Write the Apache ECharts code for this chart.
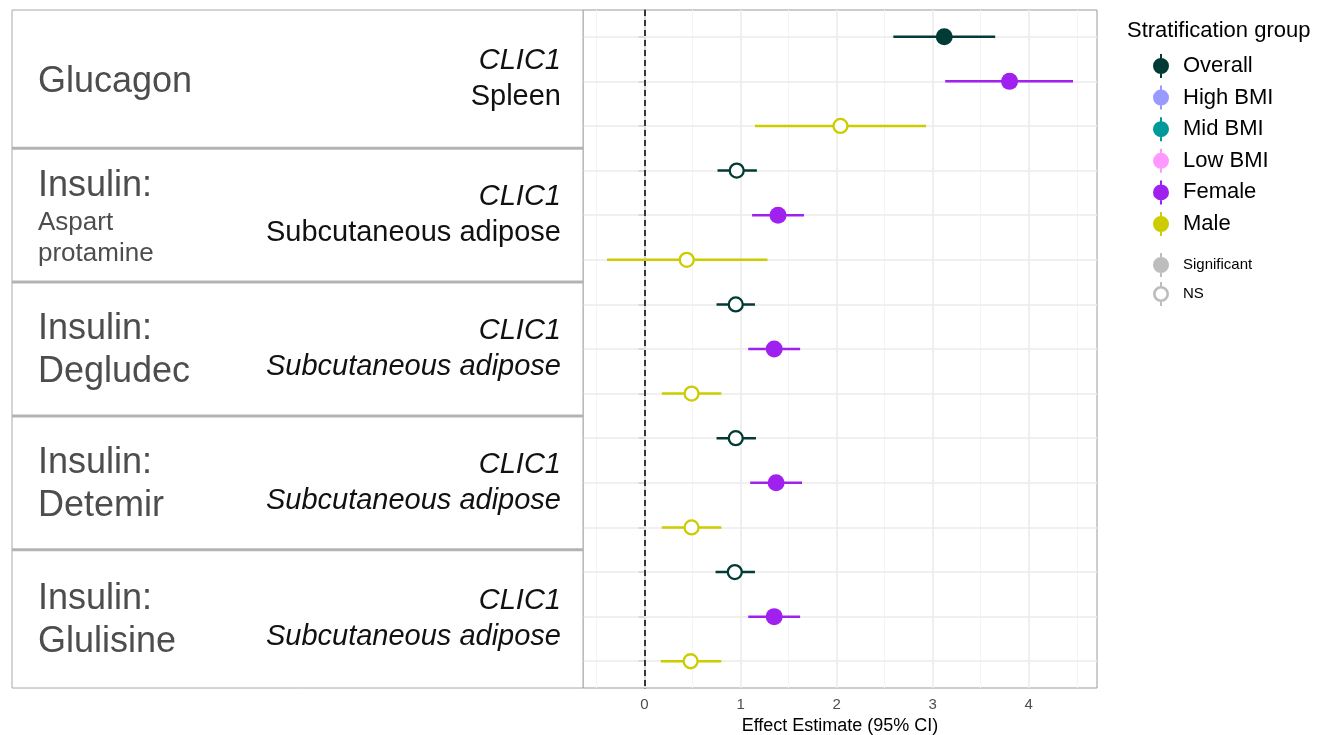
<!DOCTYPE html>
<html>
<head>
<meta charset="utf-8">
<script src="https://cdn.jsdelivr.net/npm/echarts@6/dist/echarts.min.js"></script>
<style>
  html, body { margin: 0; padding: 0; background: #fff; }
  #chart { width: 1332px; height: 735px; }
</style>
</head>
<body>
<div id="chart"></div>
<script>
// facet labels, one per drug (top to bottom)
const drugTitles = ['Glucagon', 'Insulin:', 'Insulin:', 'Insulin:', 'Insulin:'];
const drugSubtitles = ['', 'Aspart protamine', 'Degludec', 'Detemir', 'Glulisine'];
const genes = ['CLIC1', 'CLIC1', 'CLIC1', 'CLIC1', 'CLIC1'];
const tissues = ['Spleen', 'Subcutaneous adipose', 'Subcutaneous adipose', 'Subcutaneous adipose', 'Subcutaneous adipose'];

// strata shown in each facet, in row order
const plotGroups = ['Overall', 'Female', 'Male'];
const legendGroups = ['Overall', 'High BMI', 'Mid BMI', 'Low BMI', 'Female', 'Male'];

// effect estimates + 95% CI, one value per drug
const overallEst  = [3.12, 0.96, 0.95, 0.95, 0.94];
const overallLow  = [2.59, 0.76, 0.75, 0.75, 0.74];
const overallHigh = [3.65, 1.17, 1.15, 1.16, 1.15];
const overallSig  = [1, 0, 0, 0, 0];

const femaleEst  = [3.80, 1.39, 1.35, 1.37, 1.35];
const femaleLow  = [3.13, 1.12, 1.08, 1.10, 1.08];
const femaleHigh = [4.46, 1.66, 1.62, 1.64, 1.62];
const femaleSig  = [1, 1, 1, 1, 1];

const maleEst  = [2.04, 0.44, 0.49, 0.49, 0.48];
const maleLow  = [1.15, -0.39, 0.18, 0.18, 0.17];
const maleHigh = [2.93, 1.28, 0.80, 0.80, 0.80];
const maleSig  = [0, 0, 0, 0, 0];

const xTicks = [0, 1, 2, 3, 4];
const xMinorGrid = [-0.5, 0.5, 1.5, 2.5, 3.5, 4.5];
const xMin = -0.64;
const xMax = 4.71;

const FONT = "'Liberation Sans', Arial, sans-serif";

const colors = {
  'Overall':  '#023B36',
  'High BMI': '#9999FF',
  'Mid BMI':  '#009999',
  'Low BMI':  '#FF99FF',
  'Female':   '#A020F0',
  'Male':     '#CCCC00',
  sig:        '#BDBDBD',
  grid:       '#EBEBEB',
  gridMinor:  '#F4F4F4',
  frame:      '#8C8C8C'
};

// tissue names printed upright (rest are italic)
const uprightTissue = [true, true, false, false, false];

// rows are numbered 1..15, with ggplot-like 0.6 padding on both ends
const nRows = drugTitles.length * plotGroups.length;
const rowNums = [];
for (let r = 1; r <= nRows; r++) rowNums.push(r);
const yMin = 0.4;
const yMax = nRows + 0.6;

const groupData = {
  'Overall': [overallEst, overallLow, overallHigh, overallSig],
  'Female':  [femaleEst, femaleLow, femaleHigh, femaleSig],
  'Male':    [maleEst, maleLow, maleHigh, maleSig]
};

function buildRows(group) {
  const [est, lo, hi, sig] = groupData[group];
  const g = plotGroups.indexOf(group);
  return est.map((v, i) => [i * plotGroups.length + g + 1, v, lo[i], hi[i], sig[i]]);
}

function renderCI(params, api) {
  const color = api.visual('color');
  const row = api.value(0);
  const y = api.coord([0, row])[1];
  const xe = api.coord([api.value(1), row])[0];
  const xl = api.coord([api.value(2), row])[0];
  const xh = api.coord([api.value(3), row])[0];
  const sig = api.value(4) === 1;
  return {
    type: 'group',
    children: [
      { type: 'line', shape: { x1: xl, y1: y, x2: xh, y2: y }, style: { stroke: color, lineWidth: 2.5 } },
      {
        type: 'circle',
        shape: { cx: xe, cy: y, r: sig ? 8.5 : 7 },
        style: sig ? { fill: color } : { fill: '#fff', stroke: color, lineWidth: 2.3 }
      }
    ]
  };
}

function renderStrip(params, api) {
  const i = api.value(1);
  const cs = params.coordSys;
  const k = plotGroups.length;
  const last = drugTitles.length - 1;
  const y0 = api.coord([0, i === 0 ? yMin : i * k + 0.5])[1];
  const y1 = api.coord([0, i === last ? yMax : i * k + k + 0.5])[1];
  const cy = (y0 + y1) / 2;

  let left;
  const sub = drugSubtitles[i];
  if (!sub) {
    left = '{t|' + drugTitles[i] + '}';
  } else if (sub.length > 12) {
    left = '{t|' + drugTitles[i] + '}\n' + sub.split(' ').map(w => '{s|' + w + '}').join('\n');
  } else {
    left = '{t|' + drugTitles[i] + '}\n{t|' + sub + '}';
  }
  const right = '{g|' + genes[i] + '}\n{' + (uprightTissue[i] ? 'n' : 'i') + '|' + tissues[i] + '}';

  const children = [
    {
      type: 'rect',
      shape: { x: cs.x, y: y0, width: cs.width, height: y1 - y0 },
      style: { fill: '#fff', stroke: '#A8A8A8', lineWidth: 1 }
    },
    {
      type: 'text',
      style: {
        x: cs.x + 26, y: cy + (sub ? 2 : 3), text: left, align: 'left', verticalAlign: 'middle',
        rich: {
          t: { fontSize: 36, lineHeight: 43, fontFamily: FONT, fill: '#4D4D4D' },
          s: { fontSize: 26, lineHeight: 31, fontFamily: FONT, fill: '#4D4D4D' }
        }
      }
    },
    {
      type: 'text',
      style: {
        x: cs.x + cs.width - 22, y: cy, text: right, align: 'right', verticalAlign: 'middle',
        rich: {
          g: { fontSize: 29, lineHeight: 36, fontFamily: FONT, fontStyle: 'italic', fill: '#111', align: 'right' },
          n: { fontSize: 29, lineHeight: 36, fontFamily: FONT, fill: '#111', align: 'right' },
          i: { fontSize: 29, lineHeight: 36, fontFamily: FONT, fontStyle: 'italic', fill: '#111', align: 'right' }
        }
      }
    }
  ];
  if (i > 0) {
    children.push({
      type: 'line',
      shape: { x1: cs.x, y1: y0, x2: cs.x + cs.width, y2: y0 },
      style: { stroke: '#B3B3B3', lineWidth: 3 }
    });
  }
  return { type: 'group', children };
}

const iconFilled = 'path://M9,0h2v6h-2z M10,4a8,8 0 1,1 0,16a8,8 0 1,1 0,-16z M9,18h2v6h-2z';
const iconRing = 'path://M9,0h2v6h-2z M10,4a8,8 0 1,1 0,16a8,8 0 1,1 0,-16z M10,6.6a5.4,5.4 0 1,0 0,10.8a5.4,5.4 0 1,0 0,-10.8z M9,18h2v6h-2z';

const chart = echarts.init(document.getElementById('chart'));

const gridMarks = [
  ...xMinorGrid.map(v => ({ xAxis: v, lineStyle: { color: colors.gridMinor, width: 1, type: 'solid' } })),
  ...xTicks.map(v => ({ xAxis: v, lineStyle: { color: colors.grid, width: 1.6, type: 'solid' } })),
  ...rowNums.map(r => ({ yAxis: r, lineStyle: { color: colors.grid, width: 1.6, type: 'solid' } }))
];

const series = [
  {
    name: 'strips', type: 'custom', xAxisIndex: 1, yAxisIndex: 1, silent: true, z: 1,
    data: drugTitles.map((d, i) => [0, i]),
    encode: { x: 0, y: 1 },
    renderItem: renderStrip
  },
  {
    name: 'gridlines', type: 'scatter', data: [], silent: true, z: 1,
    markLine: {
      z: 1, silent: true, symbol: ['none', 'none'], label: { show: false }, animation: false,
      emphasis: { disabled: true },
      data: gridMarks
    }
  },
  {
    name: 'zero', type: 'scatter', data: [], silent: true, z: 2,
    markLine: {
      z: 2, silent: true, symbol: ['none', 'none'], label: { show: false }, animation: false,
      emphasis: { disabled: true },
      data: [{ xAxis: 0, lineStyle: { color: '#000', width: 1.5, type: [6, 4] } }]
    }
  }
];

legendGroups.forEach(g => {
  series.push({
    name: g,
    type: 'custom',
    z: 3,
    itemStyle: { color: colors[g] },
    data: plotGroups.includes(g) ? buildRows(g) : [],
    encode: { x: [1, 2, 3], y: 0 },
    renderItem: renderCI
  });
});
['Significant', 'NS'].forEach(n => {
  series.push({ name: n, type: 'custom', itemStyle: { color: colors.sig }, data: [], renderItem: renderCI });
});

const option = {
  animation: false,
  backgroundColor: '#fff',
  title: {
    text: 'Stratification group',
    left: 1122,
    top: 15,
    textStyle: { fontSize: 22, fontWeight: 'normal', color: '#000', fontFamily: FONT }
  },
  legend: [
    {
      orient: 'vertical',
      left: 1148,
      top: 49,
      itemWidth: 34,
      itemHeight: 24,
      itemGap: 7.6,
      selectedMode: false,
      textStyle: { fontSize: 22, color: '#000', fontFamily: FONT },
      data: legendGroups.map(g => ({ name: g, icon: iconFilled }))
    },
    {
      orient: 'vertical',
      left: 1148,
      top: 248,
      itemWidth: 34,
      itemHeight: 24,
      itemGap: 5,
      selectedMode: false,
      textStyle: { fontSize: 15, color: '#000', fontFamily: FONT },
      data: [{ name: 'Significant', icon: iconFilled }, { name: 'NS', icon: iconRing }]
    }
  ],
  grid: [
    {
      left: 583, right: 235, top: 10, bottom: 47, outerBoundsMode: 'none', containLabel: false,
      show: true, borderColor: '#9A9A9A', borderWidth: 1
    },
    { left: 12, right: 749, top: 10, bottom: 47, outerBoundsMode: 'none', containLabel: false }
  ],
  xAxis: [
    {
      type: 'value',
      gridIndex: 0,
      min: xMin,
      max: xMax,
      axisLine: { show: false },
      axisTick: { show: false },
      splitLine: { show: false },
      axisLabel: { customValues: xTicks, color: '#4D4D4D', fontSize: 15, margin: 9, fontFamily: FONT },
      name: 'Effect Estimate (95% CI)',
      nameLocation: 'middle',
      nameGap: 20,
      nameTextStyle: { fontSize: 18, color: '#000', fontFamily: FONT }
    },
    { type: 'value', gridIndex: 1, min: 0, max: 1, show: false }
  ],
  yAxis: [
    {
      type: 'value',
      gridIndex: 0,
      min: yMin,
      max: yMax,
      inverse: true,
      axisLine: { show: true, lineStyle: { color: colors.frame, width: 2 } },
      axisTick: { show: true, customValues: rowNums, length: 6, lineStyle: { color: colors.frame, width: 1.5 } },
      axisLabel: { show: false },
      splitLine: { show: false }
    },
    {
      type: 'value',
      gridIndex: 1,
      min: yMin,
      max: yMax,
      inverse: true,
      show: false
    }
  ],
  series
};

chart.setOption(option);
window.addEventListener('resize', () => chart.resize());
</script>
</body>
</html>
